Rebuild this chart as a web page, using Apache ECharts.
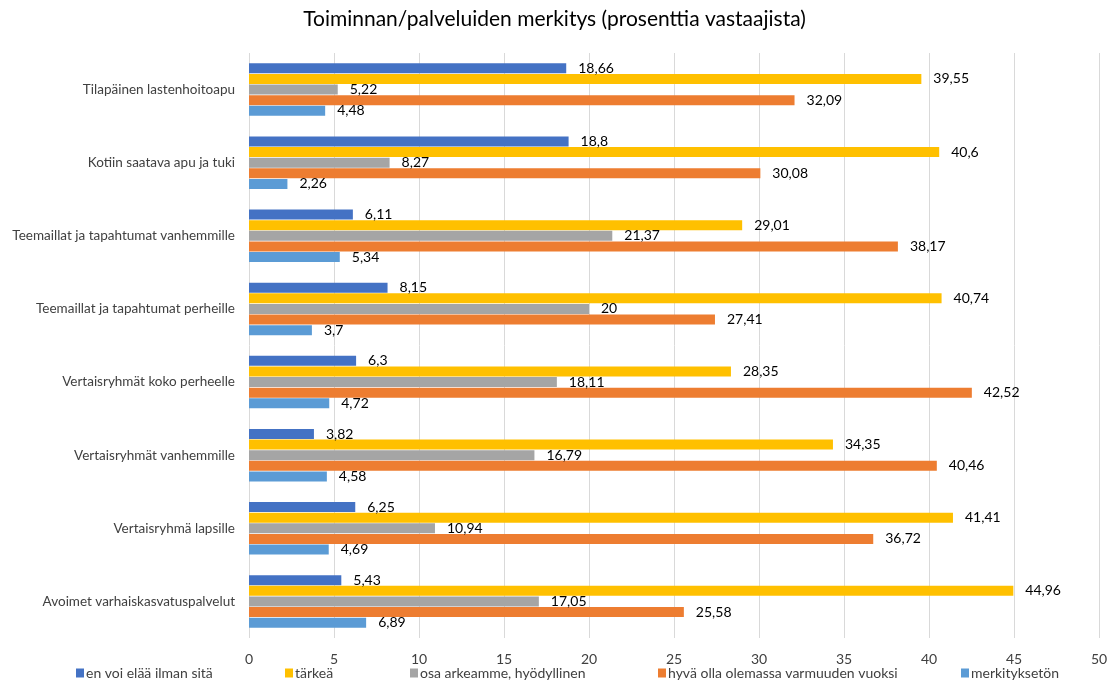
<!DOCTYPE html>
<html>
<head>
<meta charset="utf-8">
<script src="https://cdn.jsdelivr.net/npm/echarts@6/dist/echarts.min.js"></script>
<style>
html,body{margin:0;padding:0;background:#fff;}
#chart{width:1109px;height:684px;}
</style>
</head>
<body>
<div id="chart"></div>
<script>
// Services, listed bottom to top along the category axis
const categories = [
  'Avoimet varhaiskasvatuspalvelut',
  'Vertaisryhmä lapsille',
  'Vertaisryhmät vanhemmille',
  'Vertaisryhmät koko perheelle',
  'Teemaillat ja tapahtumat perheille',
  'Teemaillat ja tapahtumat vanhemmille',
  'Kotiin saatava apu ja tuki',
  'Tilapäinen lastenhoitoapu'
];

const seriesNames = [
  'en voi elää ilman sitä',
  'tärkeä',
  'osa arkeamme, hyödyllinen',
  'hyvä olla olemassa varmuuden vuoksi',
  'merkityksetön'
];

const enVoiElaa   = [5.43, 6.25, 3.82, 6.3, 8.15, 6.11, 18.8, 18.66];
const tarkea      = [44.96, 41.41, 34.35, 28.35, 40.74, 29.01, 40.6, 39.55];
const osaArkea    = [17.05, 10.94, 16.79, 18.11, 20, 21.37, 8.27, 5.22];
const hyvaOlla    = [25.58, 36.72, 40.46, 42.52, 27.41, 38.17, 30.08, 32.09];
const merkitykset = [6.89, 4.69, 4.58, 4.72, 3.7, 5.34, 2.26, 4.48];

const xTicks = [0, 5, 10, 15, 20, 25, 30, 35, 40, 45, 50];

const colors = ['#4472c4', '#ffc000', '#a5a5a5', '#ed7d31', '#5b9bd5'];
const FONT = 'Lato, "Open Sans", sans-serif';

const seriesData = [enVoiElaa, tarkea, osaArkea, hyvaOlla, merkitykset];

const legendLefts = [71, 280, 405, 653, 956];

const chart = echarts.init(document.getElementById('chart'));
chart.setOption({
  animation: false,
  title: {
    text: 'Toiminnan/palveluiden merkitys (prosenttia vastaajista)',
    left: 'center',
    top: 4,
    textStyle: { fontFamily: FONT, fontSize: 21, fontWeight: 'normal', color: '#000' }
  },
  legend: seriesNames.map((n, i) => ({
    data: [n],
    left: legendLefts[i],
    top: 661,
    itemWidth: 8,
    itemHeight: 9,
    itemGap: 4,
    icon: 'rect',
    textStyle: { fontFamily: FONT, fontSize: 14, color: '#404040', padding: [0, 0, 0, -3] }
  })),
  grid: { left: 249, right: 10, top: 53, bottom: 46, containLabel: false, outerBoundsMode: 'none' },
  xAxis: {
    type: 'value',
    min: xTicks[0],
    max: xTicks[xTicks.length - 1],
    interval: 5,
    axisLine: { show: false },
    axisTick: { show: false },
    splitLine: { lineStyle: { color: '#d9d9d9', width: 1 } },
    axisLabel: { fontFamily: FONT, fontSize: 14, color: '#404040', margin: 14 }
  },
  yAxis: {
    type: 'category',
    data: categories,
    axisLine: { show: false },
    axisTick: { show: false },
    axisLabel: { fontFamily: FONT, fontSize: 13.5, color: '#404040', margin: 14 }
  },
  series: seriesNames.map((n, i) => ({
    name: n,
    type: 'bar',
    data: seriesData[i],
    barWidth: 10,
    barGap: '6%',
    itemStyle: { color: colors[i] },
    label: {
      show: true,
      position: 'right',
      distance: 12,
      fontFamily: FONT,
      fontSize: 14,
      color: '#000',
      formatter: p => String(p.value).replace('.', ',')
    }
  }))
});
</script>
</body>
</html>
